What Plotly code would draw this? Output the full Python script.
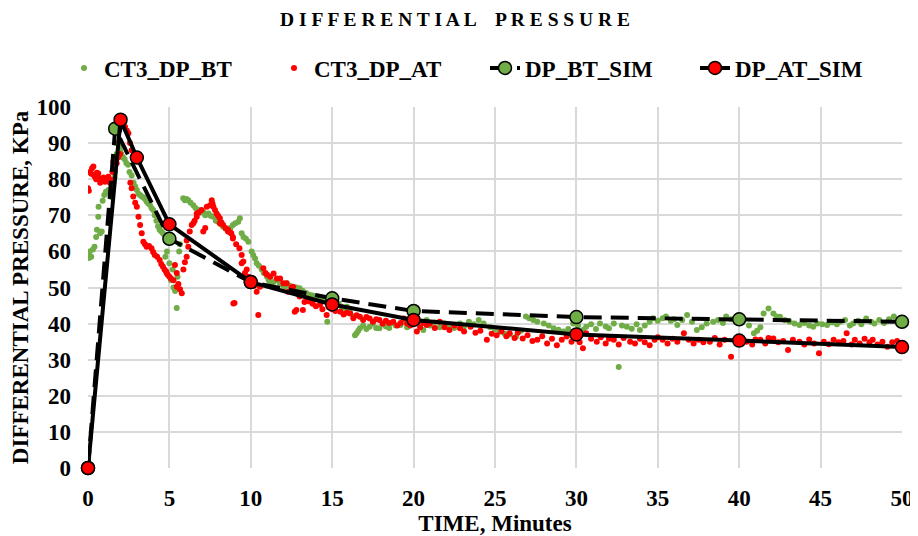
import plotly.graph_objects as go

# ---- measured data: CT3_DP_BT (time [min], dp [kPa]) ----
bt_pts = [
 (0.0,59),(0.05,58.2),(0.1,60),(0.15,58.5),(0.2,58.5),(0.3,60.5),(0.4,61.3),(0.5,64),(0.55,66),(0.63,69.6),
 (0.65,72.4),(0.75,65),(0.84,65.5),(0.9,74),(1.0,75.6),(1.1,76.5),(1.25,77),(1.35,76),(1.45,75),(1.5,77.5),
 (1.56,79),(1.62,80.5),(1.66,82),(1.72,85),(1.76,87),(1.7,90),(1.86,90),(1.92,89),(1.97,88),(2.05,87),
 (2.16,86),(2.25,85.5),(2.35,84.5),(2.46,84),(2.55,82),(2.68,81),(2.8,79),(2.9,78),(3.0,77),(3.1,76),
 (3.2,75.6),(3.3,75.2),(3.4,75),(3.5,74.5),(3.6,73.8),(3.7,73.3),(3.8,72.9),(3.9,72),(4.0,71.5),(4.1,70),
 (4.2,68.5),(4.3,67),(4.4,66),(4.5,65.5),(4.6,65),(4.7,64.5),(4.8,64),(4.9,63),(4.75,58.5),(4.85,60),
 (5.0,56.7),(5.1,52),(5.2,55),(5.25,50),(5.35,49),(5.45,44.3),(5.5,53),(5.6,60),(5.65,62),
 (5.85,74.7),(5.95,74.2),(6.05,74.5),(6.16,74.2),(6.3,73.5),(6.47,72.8),(6.6,72),(6.78,71.5),(6.9,70.8),
 (7.08,71),(7.2,70),(7.4,70.5),(7.55,69.8),(7.7,69.6),(7.85,68.5),(8.0,68.2),(8.15,67.5),(8.3,66.8),
 (8.45,66.3),(8.6,66),(8.75,66.5),(8.9,67.3),(9.05,67.8),(9.23,68.2),(9.33,69.2),(9.44,65),(9.55,64),
 (9.7,63.5),(9.85,62.7),(10.05,60),(10.15,59),(10.26,58),(10.36,56.7),(10.5,56),(10.67,55),(10.8,54),
 (11.0,53),(11.1,52),(11.2,51.2),(11.4,51.5),(11.6,52),(11.8,51),(12.0,50.5),(12.1,50.2),(12.2,51.2),
 (12.4,50.5),(12.6,49.5),(12.8,50),(13.0,49.8),(13.2,49),(13.4,48.5),(13.6,48),(13.8,47.8),(14.0,47.5),
 (14.1,47.5),(14.3,46.8),(14.5,46.5),(14.7,40.5),(14.9,47.5),(15.1,46),(15.25,45),(15.4,45.6),(15.6,44.5),
 (15.75,43.5),(15.9,44.7),(16.1,43),(16.3,42),(16.4,36.8),(16.5,37.3),(16.6,38),(16.7,38.7),(16.9,39.5),
 (17.1,38.5),(17.3,39.1),(17.5,40),(17.7,38.8),(17.9,38.7),(18.1,39.8),(18.3,39.2),(18.5,38.8),(18.7,40.2),
 (18.9,39.5),(19.2,39.6),(19.4,40.5),(19.6,39),(19.8,41),(20.2,41),(20.4,40),(20.6,38.2),(20.8,41),
 (21.0,39.5),(21.3,40.3),(21.6,39),(21.9,40),(22.2,39.5),(22.5,38.8),(22.85,40),(23.1,39.2),(23.4,40.5),
 (23.7,39.8),(24.0,41),(24.3,40),(24.7,39),(25.0,38.5),(25.3,37.8),(25.6,37.2),(25.9,37),(26.3,36.4),
 (26.6,38),(26.9,42),(27.1,41.5),(27.35,41),(27.6,40.5),(28.0,40),(28.3,39.5),(28.6,38.7),(28.9,38.3),
 (29.2,37.8),(29.5,38.5),(29.8,40),(30.1,39.5),(30.4,38.2),(30.6,39.1),(30.9,39.8),(31.2,38.5),(31.45,40),
 (31.8,39.2),(32.0,38.7),(32.3,40),(32.6,28),(32.8,39.5),(33.1,39.1),(33.4,38.6),(33.7,39.8),(33.9,38.2),
 (34.2,39.5),(34.5,40.5),(34.7,41.5),(35.0,40.8),(35.3,41.5),(35.5,42),(35.8,40.8),(36.0,41.2),(36.2,39.6),
 (36.5,41),(36.8,42.4),(37.1,40.5),(37.4,38.2),(37.7,39),(38.0,40),(38.4,40.5),(38.7,41),(39.0,40.2),
 (39.2,42),(39.5,41.2),(39.8,40.5),(40.0,41),(40.25,41),(40.6,39.5),(40.9,37.3),(41.1,38),(41.3,39),
 (41.5,42.8),(41.8,44.2),(42.1,42.8),(42.3,42),(42.5,41.9),(42.8,41),(43.1,40.5),(43.4,40),(43.7,39.6),
 (44.0,40.2),(44.3,39.5),(44.55,39.1),(44.8,40),(45.1,39.8),(45.4,39.6),(45.7,40.3),(46.0,39.8),(46.2,40.5),
 (46.5,41),(46.8,39.5),(47.0,40),(47.3,40.8),(47.5,39.8),(47.8,41.4),(48.1,40.5),(48.3,40),(48.6,41),
 (48.9,40.2),(49.2,41.2),(49.5,42),(49.8,40.5),(50.0,40),
]

# ---- measured data: CT3_DP_AT ----
at_pts = [
 (0.0,77.5),(0.05,76.8),(0.12,82),(0.2,81.5),(0.25,83),(0.33,83.5),(0.38,81),(0.43,80.7),(0.5,80),(0.55,81.8),
 (0.63,81.6),(0.7,80.2),(0.75,79),(0.84,79.8),(0.95,80.5),(1.04,79.3),(1.15,80),(1.25,80.7),(1.35,79),(1.45,79.8),
 (1.5,82),(1.56,84.8),(1.65,85.5),(1.76,84.4),(1.85,86),(1.97,87),(2.1,95),(2.27,94.5),(2.38,93.5),(2.48,92.7),
 (2.58,90),(2.68,88),(2.6,79),(2.68,77.5),(2.78,75.2),(2.9,73.5),(3.0,72.4),(3.1,69.6),(3.2,67.3),(3.3,65),
 (3.4,62.7),(3.5,62),(3.6,61.3),(3.75,61.5),(3.9,60.9),(4.0,59.8),(4.1,59),(4.25,58.5),(4.4,57.6),(4.5,56.5),
 (4.6,55.8),(4.7,55),(4.8,54.4),(4.83,54),(4.9,53.5),(5.0,53),(5.1,52.5),(5.25,52),(5.34,56.2),(5.45,54),
 (5.45,50.2),(5.55,51),(5.65,49.5),(5.76,48.4),(5.86,55),(5.95,57),(6.06,58.5),(6.16,61.3),(6.06,63),(6.25,65.5),
 (6.37,67.3),(6.47,67.8),(6.55,68.5),(6.68,69.6),(6.68,70.5),(6.8,70.8),(6.98,71.5),(7.08,65.5),(7.2,66.5),(7.3,72.4),
 (7.5,72.8),(7.6,74.2),(7.65,73.2),(7.7,72.4),(7.8,71.5),(7.9,70.5),(8.0,69.8),(8.1,69.2),(8.1,67.8),(8.2,68),
 (8.3,67.3),(8.45,66.5),(8.6,66),(8.6,65.5),(8.75,65.2),(8.8,65),(8.9,64),(8.9,63.6),(8.93,45.6),(9.0,45.7),
 (9.1,62),(9.3,60.9),(9.44,59),(9.44,56.7),(9.54,57.2),(9.64,54),(9.75,55),(9.85,53),(10.0,52),(10.2,50.5),
 (10.36,48.8),(10.46,42.4),(10.56,50.2),(10.77,55.3),(10.9,54),(11.0,53.5),(11.2,53),(11.4,53.9),(11.6,52.5),(11.8,52.5),
 (12.0,51.2),(12.2,51.2),(12.3,48.8),(12.5,50),(12.6,50.2),(12.7,43.3),(12.8,48.4),(12.8,43.8),(13.0,47.5),(13.2,43.8),
 (13.3,46),(13.5,46.5),(13.6,46.1),(13.8,45.5),(14.0,44.8),(14.25,45.2),(14.4,44),(14.66,42.4),(14.8,44.5),(15.0,44),
 (15.2,43.5),(15.5,43.3),(15.7,42.5),(15.9,43),(16.1,42.8),(16.3,41.5),(16.5,42.3),(16.7,41.9),(16.9,41),(17.1,41.8),
 (17.3,41.4),(17.5,40.5),(17.7,41.2),(17.9,41),(18.1,40),(18.3,40.8),(18.5,40.2),(18.75,40.5),(19.0,39.5),(19.2,40.2),
 (19.4,41.4),(19.6,40),(19.8,39.5),(20.2,37.8),(20.4,39),(20.6,40.2),(20.8,39.6),(21.0,40),(21.3,38.8),(21.6,40.5),
 (21.9,39),(22.2,38.2),(22.5,39.5),(22.85,38.7),(23.1,37.8),(23.5,39.1),(23.8,37.5),(24.1,38),(24.5,35.5),(24.8,37.2),
 (25.1,36.8),(25.4,37.8),(25.7,36.5),(25.9,37.3),(26.2,36),(26.4,37.5),(26.7,35.9),(27.0,36.8),(27.3,35.2),(27.6,35.5),
 (27.9,36.5),(28.2,34.5),(28.5,35.8),(28.8,34),(29.1,35.5),(29.4,36.4),(29.7,35),(30.0,36.4),(30.2,34.8),(30.4,33.2),
 (30.6,37.3),(30.9,35.8),(31.25,35),(31.5,36.2),(31.8,34.5),(32.0,35.8),(32.3,35.5),(32.6,34.2),(32.9,36),(33.3,35),
 (33.6,34.5),(33.9,35.8),(34.2,34.8),(34.5,34),(34.8,35.5),(35.0,36.2),(35.3,35.5),(35.6,34.5),(35.9,35.8),(36.2,35),
 (36.6,37.3),(36.9,35.5),(37.2,34.5),(37.5,35.5),(37.8,34.8),(38.2,35),(38.5,36),(38.8,34.2),(39.1,35.5),(39.5,30.8),
 (39.85,35),(40.1,35.8),(40.45,35),(40.8,34.2),(41.0,35.6),(41.3,35.5),(41.6,34.5),(41.8,36),(42.1,35.9),(42.4,34.8),
 (42.7,35.2),(43.0,32.7),(43.3,35.5),(43.7,35),(44.0,34.2),(44.3,35.6),(44.6,34.5),(44.9,31.8),(45.2,35),(45.5,34.3),
 (45.8,35.5),(46.1,34.8),(46.4,35.2),(46.6,37.3),(46.9,34.2),(47.1,35.5),(47.4,34.5),(47.7,35.8),(48.0,34.8),(48.2,35.5),
 (48.5,34.2),(48.8,35),(49.1,33.6),(49.4,34.8),(49.7,35.2),(49.9,34),
]

bt_time = [p[0] for p in bt_pts]
bt_dp = [p[1] for p in bt_pts]
at_time = [p[0] for p in at_pts]
at_dp = [p[1] for p in at_pts]

# ---- simulation results ----
bt_sim_time = [0, 1.67, 5, 10, 15, 20, 30, 40, 50]
bt_sim_dp = [0, 94, 63.5, 51.5, 47, 43.5, 41.8, 41.2, 40.5]
at_sim_time = [0, 2, 3, 5, 10, 15, 20, 30, 40, 50]
at_sim_dp = [0, 96.5, 86, 67.5, 51.5, 45.3, 41, 37, 35.3, 33.5]

x_ticks = [0, 5, 10, 15, 20, 25, 30, 35, 40, 45, 50]
y_ticks = [0, 10, 20, 30, 40, 50, 60, 70, 80, 90, 100]

GREEN = "#70ad47"
RED = "#ff0000"
FONT = "Liberation Serif"
OFF = 8                      # page body margin of the browser
W, H = 918 - OFF, 536 - OFF

fig = go.Figure()
fig.add_trace(go.Scatter(x=bt_time, y=bt_dp, mode="markers", name="CT3_DP_BT", legend="legend",
                         marker=dict(color=GREEN, size=6)))
fig.add_trace(go.Scatter(x=at_time, y=at_dp, mode="markers", name="CT3_DP_AT", legend="legend2",
                         marker=dict(color=RED, size=6)))
fig.add_trace(go.Scatter(x=bt_sim_time, y=bt_sim_dp, mode="lines+markers", name="DP_BT_SIM", legend="legend3",
                         line=dict(color="black", width=4, dash="18px,9px"),
                         marker=dict(color=GREEN, size=13, line=dict(color="black", width=1.5)),
                         cliponaxis=False))
fig.add_trace(go.Scatter(x=at_sim_time, y=at_sim_dp, mode="lines+markers", name="DP_AT_SIM", legend="legend4",
                         line=dict(color="black", width=4),
                         marker=dict(color=RED, size=13, line=dict(color="black", width=1.5)),
                         cliponaxis=False))

title_text = " ".join("DIFFERENTIAL") + "    " + " ".join("PRESSURE")

def leg(xpx):
    return dict(orientation="h", xref="container", yref="container",
                x=(xpx - OFF) / W, xanchor="left", y=1 - (68 - OFF) / H, yanchor="middle",
                font=dict(family=FONT, size=23, weight="bold"), bgcolor="rgba(0,0,0,0)")

fig.update_layout(
    width=W, height=H,
    margin=dict(l=88 - OFF, r=16, t=107 - OFF, b=68, autoexpand=False),
    paper_bgcolor="white", plot_bgcolor="white",
    font=dict(family=FONT, color="black", size=23, weight="bold"),
    title=dict(text=title_text, x=(455 - OFF) / W, xanchor="center", xref="container",
               y=1 - (19 - OFF) / H, yanchor="middle", yref="container",
               font=dict(family=FONT, size=19.5, weight="bold")),
    legend=leg(64), legend2=leg(274), legend3=leg(485), legend4=leg(695),
    showlegend=True,
)
fig.update_xaxes(range=[0, 50], tickvals=x_ticks, showgrid=True, gridcolor="#d9d9d9", gridwidth=1.5,
                 zeroline=False, showline=False, ticks="", ticklabelstandoff=14,
                 title=dict(text="TIME, Minutes", font=dict(size=23), standoff=6),
                 tickfont=dict(size=23))
fig.update_yaxes(range=[0, 100], tickvals=y_ticks, showgrid=True, gridcolor="#d9d9d9", gridwidth=1.5,
                 zeroline=False, showline=False, ticks="", ticklabelstandoff=16,
                 title=dict(text="DIFFERENTIAL PRESSURE, KPa", font=dict(size=23), standoff=10),
                 tickfont=dict(size=23))

fig.write_html("out.html")
